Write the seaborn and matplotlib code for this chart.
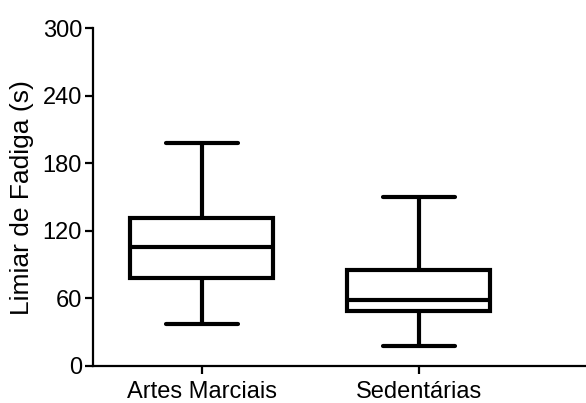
import pandas as pd
import seaborn as sns
import matplotlib
matplotlib.use("Agg")
import matplotlib.pyplot as plt

# Valores: minimo, Q1, mediana, Q3, maximo
grupos = ["Artes Marciais", "Sedentárias"]
artes_marciais = [37, 78.5, 106, 131, 198]
sedentarias = [18, 48.5, 59, 85.5, 150]
y_ticks = [0, 60, 120, 180, 240, 300]

df = pd.DataFrame({
    "grupo": [grupos[0]] * len(artes_marciais) + [grupos[1]] * len(sedentarias),
    "limiar": artes_marciais + sedentarias,
})

sns.set_style("ticks")
plt.rcParams["font.family"] = ["Liberation Sans", "DejaVu Sans"]
plt.rcParams["text.color"] = "black"
plt.rcParams["axes.labelcolor"] = "black"
plt.rcParams["xtick.color"] = "black"
plt.rcParams["ytick.color"] = "black"

fig = plt.figure(figsize=(5.86, 4.03), dpi=100)
ax = fig.add_axes([0.159, 0.092, 0.841, 0.838])

lw = 3.0
sns.boxplot(
    data=df, x="grupo", y="limiar", ax=ax,
    whis=(0, 100), width=0.66, color="white", linecolor="black",
    linewidth=lw, showfliers=False,
    boxprops=dict(facecolor="white", edgecolor="black", linewidth=lw),
    medianprops=dict(color="black", linewidth=lw),
    whiskerprops=dict(color="black", linewidth=lw),
    capprops=dict(color="black", linewidth=lw),
)

ax.set_ylim(0, 300)
ax.set_xlim(-0.5, 1.77)
ax.set_yticks(y_ticks)
ax.set_yticklabels([str(t) for t in y_ticks], fontsize=17, color="black")
ax.set_xticks([0, 1])
ax.set_xticklabels(grupos, fontsize=17, color="black")
ax.set_xlabel("")
ax.set_ylabel("Limiar de Fadiga (s)", fontsize=19, labelpad=6, color="black")

sns.despine(ax=ax)
for s in ["left", "bottom"]:
    ax.spines[s].set_linewidth(1.6)
    ax.spines[s].set_color("black")
ax.tick_params(axis="both", width=1.6, length=6, color="black", pad=2)
ax.tick_params(axis="x", pad=5)

fig.savefig("out.png", dpi=100)
